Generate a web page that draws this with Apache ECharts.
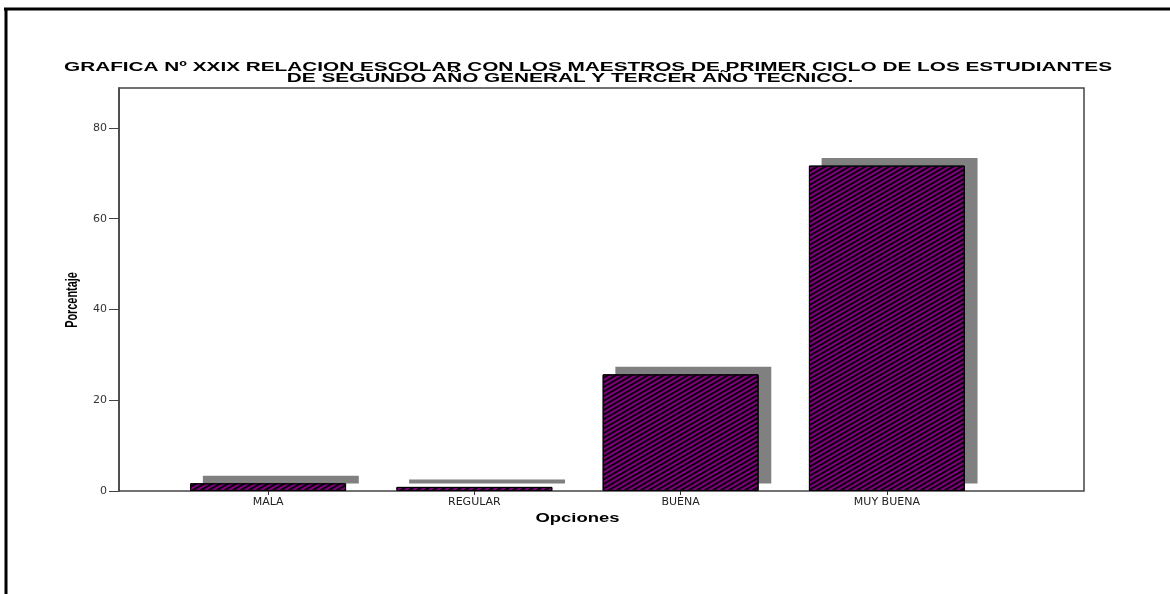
<!DOCTYPE html>
<html>
<head>
<meta charset="utf-8">
<script src="https://cdn.jsdelivr.net/npm/echarts@6/dist/echarts.min.js"></script>
<style>
html,body{margin:0;padding:0;background:#fff;}
#c{width:1170px;height:594px;}
</style>
</head>
<body>
<div id="c"></div>
<script>
const categories = ['MALA', 'REGULAR', 'BUENA', 'MUY BUENA'];
const percentages = [1.7, 0.9, 25.7, 71.7];
const yTicks = [0, 20, 40, 60, 80];
const titleLines = ['GRAFICA Nº XXIX RELACION ESCOLAR CON LOS MAESTROS DE PRIMER CICLO DE LOS ESTUDIANTES', 'DE SEGUNDO AÑO GENERAL Y TERCER AÑO TECNICO.'];
const yName = 'Porcentaje';
const xName = 'Opciones';

const Y_MAX = 88.8;
const BAR_FRAC = 0.756;

const chart = echarts.init(document.getElementById('c'), null, {renderer: 'canvas'});
chart.setOption({
  backgroundColor: '#fff',
  animation: false,
  graphic: [
    {type: 'line', shape: {x1: 4, y1: 9, x2: 1170, y2: 9}, style: {stroke: '#000', lineWidth: 3}},
    {type: 'line', shape: {x1: 6, y1: 8, x2: 6, y2: 594}, style: {stroke: '#000', lineWidth: 3}},
    {type: 'text', x: 588, y: 67.5, scaleX: 1.73,
      style: {text: titleLines[0], font: 'bold 12px "Liberation Sans", Arial', fill: '#000', textAlign: 'center', textVerticalAlign: 'middle'}},
    {type: 'text', x: 570, y: 78.5, scaleX: 1.73,
      style: {text: titleLines[1], font: 'bold 12px "Liberation Sans", Arial', fill: '#000', textAlign: 'center', textVerticalAlign: 'middle'}},
    {type: 'text', x: 72.5, y: 300, rotation: Math.PI / 2, scaleX: 0.64,
      style: {text: yName, font: 'bold 17px "Liberation Sans", Arial', fill: '#000', textAlign: 'center', textVerticalAlign: 'middle'}},
    {type: 'text', x: 577.5, y: 518.5, scaleX: 1.42,
      style: {text: xName, font: 'bold 13px "Liberation Sans", Arial', fill: '#000', textAlign: 'center', textVerticalAlign: 'middle'}}
  ],
  grid: [
    {left: 119, top: 88, width: 965, height: 403, show: true, borderColor: '#444', borderWidth: 1.5, backgroundColor: 'transparent'},
    {left: 165, top: 88, width: 825, height: 403}
  ],
  xAxis: [
    {gridIndex: 0, type: 'value', show: false, min: 0, max: 1},
    {
      gridIndex: 1, type: 'category', data: categories,
      axisLine: {show: false},
      axisTick: {show: true, alignWithLabel: true, length: 4, lineStyle: {color: '#333'}},
      axisLabel: {fontFamily: 'DejaVu Sans', fontSize: 11, color: '#222', margin: 6}
    }
  ],
  yAxis: [
    {
      gridIndex: 0, type: 'value', min: 0, max: Y_MAX, interval: 20,
      axisLine: {show: true, lineStyle: {color: '#444', width: 1.5}},
      axisTick: {show: true, length: 10, lineStyle: {color: '#444'}, customValues: yTicks},
      splitLine: {show: false},
      axisLabel: {fontFamily: 'DejaVu Sans', fontSize: 11, color: '#333', margin: 12, customValues: yTicks}
    },
    {gridIndex: 1, type: 'value', min: 0, max: Y_MAX, show: false}
  ],
  series: [
    {
      type: 'custom', xAxisIndex: 1, yAxisIndex: 1, z: 1,
      data: percentages.map((v, i) => [i, v]),
      renderItem: function (params, api) {
        const top = api.coord([api.value(0), api.value(1)]);
        const base = api.coord([api.value(0), 0]);
        const w = api.size([1, 0])[0] * BAR_FRAC;
        return {
          type: 'rect',
          shape: {x: top[0] - w / 2 + 12.7, y: top[1] - 7.5, width: w, height: base[1] - top[1]},
          style: {fill: '#808080'}
        };
      }
    },
    {
      type: 'bar', xAxisIndex: 1, yAxisIndex: 1, z: 2,
      data: percentages,
      barWidth: (BAR_FRAC * 100) + '%',
      itemStyle: {
        color: '#800080', borderColor: '#000', borderWidth: 1,
        decal: {symbol: 'rect', symbolSize: 1, dashArrayX: [1, 0], dashArrayY: [1.2, 2], rotation: -Math.PI / 6, color: 'rgba(0,0,0,0.9)'}
      }
    }
  ]
});
</script>
</body>
</html>
